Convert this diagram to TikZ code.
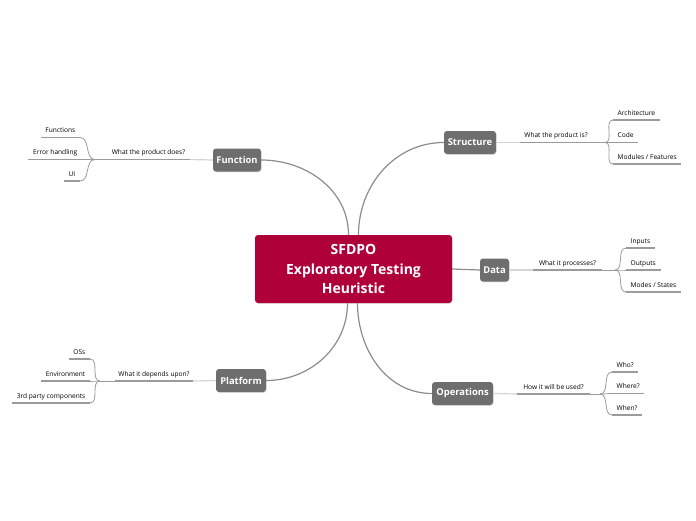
\documentclass[tikz,border=0pt]{standalone}
\usepackage{fontspec}
\setmainfont{Open Sans}
\usepackage{tikz}
\usetikzlibrary{positioning, calc, shadows}
\definecolor{themered}{RGB}{176, 0, 58}
\definecolor{themegray}{RGB}{110, 110, 110}
\definecolor{linegray}{RGB}{140, 140, 140}
\definecolor{ulgray}{RGB}{155, 155, 155}
\definecolor{faintgray}{RGB}{212, 212, 212}

\tikzset{
    root/.style={fill=themered, text=white, rounded corners=3pt, align=center,
        font=\fontsize{14}{19.5}\selectfont\bfseries, minimum width=197pt, minimum height=68pt,
        drop shadow={shadow xshift=0.6pt, shadow yshift=-0.8pt, opacity=0.2}},
    topic/.style={fill=themegray, text=white, rounded corners=3pt, inner sep=2pt,
        font=\fontsize{9.4}{11}\selectfont\bfseries, minimum height=23pt,
        drop shadow={shadow xshift=0.6pt, shadow yshift=-0.8pt, opacity=0.25}},
    question/.style={font=\fontsize{6.6}{8}\selectfont, anchor=south, inner xsep=0pt,
        inner ysep=3pt, text height=4.8pt, text depth=1.5pt},
    leafL/.style={font=\fontsize{6.6}{8}\selectfont, anchor=south east, inner xsep=4.5pt,
        inner ysep=3pt, text height=4.8pt, text depth=1.5pt},
    leafR/.style={leafL, anchor=south west},
    uline/.style={ulgray, line width=1.3pt},
    branch/.style={linegray, line width=1.2pt},
    link/.style={faintgray, line width=1.2pt},
    fork/.style={ulgray, line width=0.8pt},
}

\begin{document}
\begin{tikzpicture}[x=1pt, y=-1pt]
    \useasboundingbox (0,0) rectangle (696,520);

    % centre and main topics
    \node[root] (sfdpo) at (353.5,269) {SFDPO\\Exploratory Testing\\Heuristic};
    \node[topic, minimum width=48pt] (fn) at (237,160) {Function};
    \node[topic, minimum width=52pt] (st) at (470,142.5) {Structure};
    \node[topic, minimum width=29pt] (da) at (494.5,270) {Data};
    \node[topic, minimum width=50pt] (pl) at (241,380.5) {Platform};
    \node[topic, minimum width=61pt] (op) at (462.5,393.5) {Operations};

    \draw[branch] (fn.east) to[out=0, in=90] ($(sfdpo.north)+(-5,0)$);
    \draw[branch] (st.west) to[out=180, in=90] ($(sfdpo.north)+(5,0)$);
    \draw[branch] (sfdpo.east) -- (da.west);
    \draw[branch] (pl.east) to[out=0, in=-90] ($(sfdpo.south)+(-6,0)$);
    \draw[branch] (op.west) to[out=180, in=-90] ($(sfdpo.south)+(4,0)$);

    % questions
    \node[question, minimum width=83pt] (fnq) at (148.5,159.5) {What the product does?};
    \node[question, minimum width=72pt] (stq) at (556,142.5) {What the product is?};
    \node[question, minimum width=69pt] (daq) at (567.5,270) {What it processes?};
    \node[question, minimum width=78pt] (plq) at (154,381) {What it depends upon?};
    \node[question, minimum width=73pt] (opq) at (553.5,394) {How it will be used?};
    \foreach \q in {fnq, stq, daq, plq, opq}
        \draw[uline] (\q.south west) -- (\q.south east);

    \draw[link] (fn.west) -- (fnq.south east);
    \draw[link] (st.east) -- (stq.south west);
    \draw[link] (da.east) -- (daq.south west);
    \draw[link] (pl.west) -- (plq.south east);
    \draw[link] (op.east) -- (opq.south west);

    % junctions
    \coordinate (fnj) at (95,159.5);
    \coordinate (stj) at (605,142.5);
    \coordinate (daj) at (615,270);
    \coordinate (plj) at (100,381);
    \coordinate (opj) at (600,394);
    \draw[fork] (fnq.south west) -- (fnj);
    \draw[fork] (stq.south east) -- (stj);
    \draw[fork] (daq.south east) -- (daj);
    \draw[fork] (plq.south west) -- (plj);
    \draw[fork] (opq.south east) -- (opj);

    % Function
    \node[leafL] (fn1) at (80,137.5) {Functions};
    \node[leafL] (fn2) at (82,159.5) {Error handling};
    \node[leafL] (fn3) at (80,181) {UI};
    % Structure
    \node[leafR] (st1) at (613,120) {Architecture};
    \node[leafR] (st2) at (613,142.5) {Code};
    \node[leafR] (st3) at (613,164) {Modules / Features};
    % Data
    \node[leafR] (da1) at (626,248) {Inputs};
    \node[leafR] (da2) at (626,270) {Outputs};
    \node[leafR] (da3) at (626,292) {Modes / States};
    % Platform
    \node[leafL] (pl1) at (90,359) {OSs};
    \node[leafL] (pl2) at (90,381) {Environment};
    \node[leafL] (pl3) at (90,403) {3rd party components};
    % Operations
    \node[leafR] (op1) at (612,372) {Who?};
    \node[leafR] (op2) at (612,393.5) {Where?};
    \node[leafR] (op3) at (612,415) {When?};

    \foreach \l in {fn1, fn2, fn3, st1, st2, st3, da1, da2, da3, pl1, pl2, pl3, op1, op2, op3}
        \draw[uline] (\l.south west) -- (\l.south east);

    \foreach \l in {fn1, fn2, fn3}
        \draw[fork] (fnj) to[out=180, in=0] (\l.south east);
    \foreach \l in {pl1, pl2, pl3}
        \draw[fork] (plj) to[out=180, in=0] (\l.south east);
    \foreach \l in {st1, st2, st3}
        \draw[fork] (stj) to[out=0, in=180] (\l.south west);
    \foreach \l in {da1, da2, da3}
        \draw[fork] (daj) to[out=0, in=180] (\l.south west);
    \foreach \l in {op1, op2, op3}
        \draw[fork] (opj) to[out=0, in=180] (\l.south west);
\end{tikzpicture}
\end{document}
